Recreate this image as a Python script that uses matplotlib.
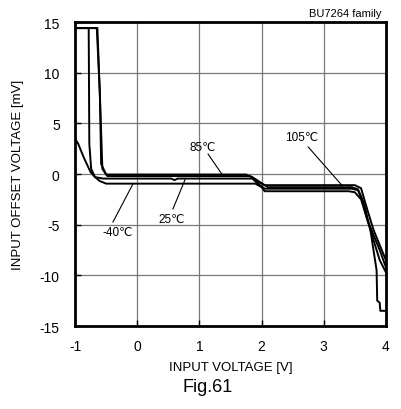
import numpy as np
import matplotlib
matplotlib.use('Agg')
import matplotlib.pyplot as plt

plt.rcParams['font.family'] = ['Liberation Sans', 'DejaVu Sans']

# input voltage [V] / input offset voltage [mV]
x_25 = [-1, -0.78, -0.77, -0.74, -0.68, -0.55, 0.55, 0.6, 0.65, 1.85, 1.95, 2.05,
        3.45, 3.55, 3.65, 3.75, 3.85, 3.86, 3.9, 3.91, 4.0]
y_25 = [14.4, 14.4, 3, 0.5, -0.3, -0.45, -0.45, -0.6, -0.45, -0.45, -1.0, -1.45,
        -1.45, -1.6, -3, -5.5, -9.5, -12.5, -12.7, -13.5, -13.5]

x_85 = [-1, -0.65, -0.6, -0.58, -0.5, 1.75, 1.85, 1.95, 2.05, 3.5, 3.6, 3.7, 3.8, 3.9, 4.0]
y_85 = [14.4, 14.4, 8, 1, -0.05, -0.05, -0.3, -0.8, -1.1, -1.1, -1.4, -3.5, -5.5, -7, -8.5]

x_105 = [-1, -0.64, -0.59, -0.56, -0.48, 1.8, 1.9, 2.0, 2.1, 3.45, 3.55, 3.62, 3.7, 3.8, 3.9, 4.0]
y_105 = [14.4, 14.4, 6, 0.5, -0.2, -0.2, -0.5, -0.9, -1.3, -1.3, -1.5, -2.5, -4.5, -6, -7.5, -9.2]

x_m40 = [-1, -0.95, -0.85, -0.75, -0.68, -0.6, -0.5, 1.9, 2.0, 2.05, 3.4, 3.5, 3.6, 3.7, 3.8, 3.9, 4.0]
y_m40 = [3.5, 3.0, 1.5, 0.2, -0.3, -0.7, -0.95, -0.95, -1.3, -1.7, -1.7, -1.8, -2.5, -4.5, -6.5, -8.5, -9.7]

fig = plt.figure(figsize=(4.02, 4.10), dpi=100)
ax = fig.add_axes([0.1866, 0.2024, 0.7734, 0.7415])

for xs, ys in [(x_25, y_25), (x_85, y_85), (x_105, y_105), (x_m40, y_m40)]:
    ax.plot(xs, ys, color='black', lw=1.4)

ax.set_xlim(-1, 4)
ax.set_ylim(-15, 15)
ax.set_xticks(np.arange(-1, 5, 1))
ax.set_yticks(np.arange(-15, 20, 5))
ax.set_xticklabels(['-1', '0', '1', '2', '3', '4'])
ax.set_yticklabels(['-15', '-10', '-5', '0', '5', '10', '15'])
ax.grid(True, color='#787878', lw=0.9)
ax.tick_params(direction='in', length=4, width=1, labelsize=10)
ax.tick_params(axis='y', pad=11)
ax.tick_params(axis='x', pad=9)
for s in ax.spines.values():
    s.set_linewidth(2)

ax.set_xlabel('INPUT VOLTAGE [V]', fontsize=9.5, labelpad=6)
ax.set_ylabel('INPUT OFFSET VOLTAGE [mV]', fontsize=9.5, labelpad=11)

# temperature labels with leader lines
notes = [('85℃', 1.06, 2.67, 1.14, 1.97, 1.36, 0.0),
         ('25℃', 0.56, -4.44, 0.575, -3.45, 0.77, -0.55),
         ('-40℃', -0.31, -5.73, -0.39, -4.74, -0.07, -1.0),
         ('105℃', 2.65, 3.65, 2.75, 2.67, 3.29, -1.1)]
for t, tx, ty, x0, y0, x1, y1 in notes:
    ax.text(tx, ty, t, fontsize=8.5, ha='center', va='center')
    ax.plot([x0, x1], [y0, y1], color='black', lw=0.8)

fig.text(0.95, 0.967, 'BU7264 family', fontsize=8, ha='right', va='center')
fig.text(0.517, 0.054, 'Fig.61', fontsize=13, ha='center', va='center')

fig.savefig('out.png', dpi=100)
